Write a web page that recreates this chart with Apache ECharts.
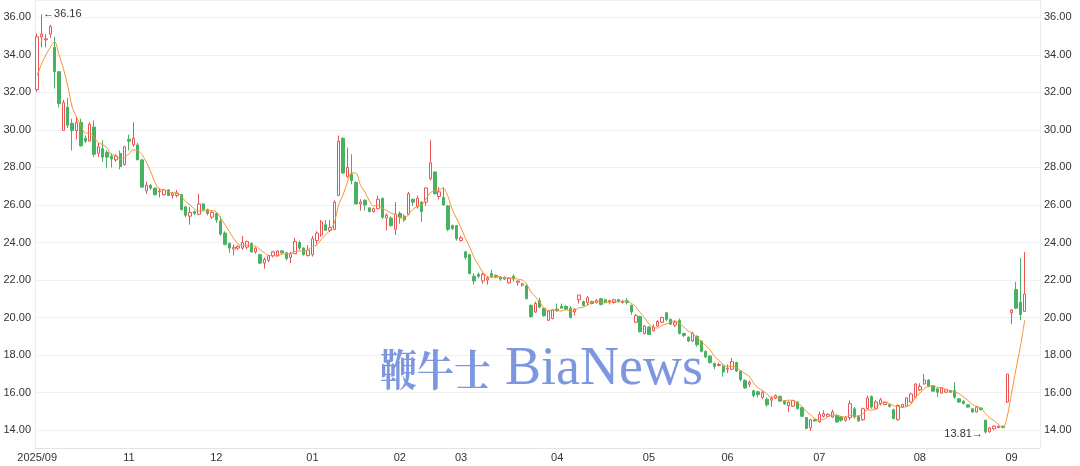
<!DOCTYPE html>
<html><head><meta charset="utf-8">
<script src="https://cdn.jsdelivr.net/npm/echarts@6/dist/echarts.min.js"></script>
<style>html,body{margin:0;padding:0;background:#fff}#c{width:1080px;height:466px}</style>
</head><body><div id="c"></div>
<script>
// month blocks of the category axis (trading days per month; last block has 3 empty slots)
const monthLabels = ['2025/09','10','11','12','01','02','03','04','05','06','07','08','09'];
const monthCounts = [4,17,20,22,20,14,22,21,18,21,23,21,7];
const shownLabels = ['2025/09','11','12','01','02','03','04','05','06','07','08','09'];

const opens = [
32.15,34.95,34.8,35.1,34.4,33.1,29.97,31.2,30.35,29.95,
30.4,29.55,29.4,30.15,28.75,29.0,28.8,28.6,28.4,28.75,
28.15,29.5,29.2,29.2,28.4,26.75,27.05,26.9,26.7,26.55,
26.8,26.5,26.5,26.55,25.9,25.4,25.65,25.5,26.05,25.75,
25.35,25.55,25.15,24.5,23.95,23.65,23.7,23.7,23.75,23.95,
23.5,23.35,22.9,23.05,23.3,23.3,23.55,23.45,23.2,23.4,
24.0,23.7,23.3,23.35,24.1,24.4,24.95,24.65,24.7,26.5,
29.55,27.5,27.65,27.2,26.05,26.25,25.85,25.65,25.8,26.35,
25.3,25.3,24.7,25.55,25.4,25.5,26.3,25.9,26.15,26.15,
27.4,27.75,26.45,26.4,25.95,24.9,24.9,24.1,23.5,23.35,
22.2,22.3,21.95,22.0,22.35,22.25,22.15,22.05,21.85,22.2,
21.88,21.72,21.7,20.65,20.3,20.9,20.5,19.85,19.95,20.45,
20.6,20.6,20.5,20.3,20.95,20.85,20.8,20.85,20.8,21.0,
20.95,20.85,20.8,20.95,20.8,20.9,20.65,19.75,20.05,19.15,
19.5,19.3,19.55,19.75,20.25,19.9,19.6,19.85,19.15,18.95,
18.75,19.0,18.75,18.2,17.95,17.55,17.45,17.4,17.25,17.25,
17.6,17.15,16.65,16.45,16.1,16.05,15.75,15.65,15.6,15.7,
15.8,15.55,15.3,15.28,15.5,15.2,14.67,14.14,14.56,14.44,
14.74,14.74,14.7,14.79,14.7,14.53,14.67,15.14,14.74,14.56,
15.14,15.79,15.14,15.41,15.37,15.35,15.09,14.56,15.23,15.27,
15.5,15.76,16.15,16.46,16.67,16.37,16.2,15.97,16.02,16.11,
16.11,15.67,15.55,15.35,15.14,14.97,15.18,14.53,13.91,14.07,
14.14,14.21,15.5,20.25,21.5,20.82,20.33];

const closes = [
34.96,35.1,34.85,35.5,33.1,31.4,31.45,30.25,29.97,30.4,
29.15,29.4,30.3,28.7,29.1,28.55,28.55,28.45,28.6,28.05,
29.1,29.4,29.55,28.4,26.95,27.05,26.9,26.55,26.75,26.8,
26.5,26.6,26.62,25.75,25.45,25.6,25.55,26.05,25.75,25.55,
25.6,25.2,24.45,23.9,23.7,23.75,23.8,24.0,24.05,23.5,
23.7,22.9,23.1,23.3,23.5,23.55,23.45,23.15,23.4,24.05,
23.7,23.35,23.6,24.2,24.5,25.1,24.65,24.8,26.15,29.4,
27.7,28.0,27.3,26.05,26.15,26.0,25.65,25.8,26.3,25.35,
25.45,24.9,25.5,25.35,25.2,26.6,26.15,26.35,25.65,26.9,
28.25,26.6,26.7,26.0,24.7,24.75,24.2,24.25,23.2,22.35,
21.95,22.2,22.3,22.1,22.2,22.15,22.05,22.12,22.1,22.05,
21.95,21.8,21.0,20.05,20.75,20.55,20.1,20.35,20.4,20.38,
20.5,20.45,20.0,20.45,21.2,20.65,21.05,20.75,20.9,20.7,
20.8,20.9,20.95,20.85,20.85,20.8,20.3,20.1,19.25,19.55,
19.1,19.5,19.8,20.0,19.9,19.65,19.75,19.15,19.05,18.75,
19.15,18.55,18.2,17.9,17.6,17.4,17.5,17.1,17.3,17.65,
17.15,16.7,16.25,16.55,15.85,15.9,16.0,15.35,15.7,15.85,
15.55,15.4,15.5,15.58,15.15,14.74,14.09,14.56,14.49,14.84,
14.88,14.84,14.97,14.44,14.53,14.67,15.41,14.7,14.49,15.14,
15.72,15.23,15.5,15.62,15.48,15.27,14.62,15.32,15.37,15.72,
15.93,16.46,16.32,16.67,16.32,16.08,16.02,16.25,16.15,16.02,
15.76,15.5,15.41,15.23,14.97,15.23,15.09,13.91,14.12,14.21,
14.21,14.14,16.99,20.4,20.5,20.16,21.25];

const lows = [
32.02,34.4,34.4,34.9,32.2,31.2,29.97,30.1,28.9,29.5,
29.1,29.3,29.4,28.55,28.55,28.3,27.95,28.0,28.3,27.9,
28.1,28.9,29.1,28.4,26.9,26.6,26.8,26.5,26.4,26.5,
26.5,26.35,26.4,25.7,25.35,24.95,25.45,25.45,25.7,25.45,
25.25,25.05,24.35,23.85,23.45,23.3,23.6,23.6,23.65,23.45,
23.4,22.85,22.6,22.95,23.2,23.25,23.4,23.05,22.9,23.4,
23.6,23.3,23.25,23.25,23.9,24.3,24.65,24.55,24.65,26.5,
27.65,27.45,27.1,26.05,25.7,25.7,25.6,25.6,25.8,25.25,
24.65,24.85,24.4,25.0,25.1,25.45,25.95,25.8,25.1,25.95,
27.3,26.55,26.3,25.95,24.6,24.65,24.1,24.05,23.1,22.3,
21.75,22.1,21.8,21.75,22.1,22.1,21.95,22.0,21.8,21.9,
21.7,21.65,21.0,20.0,20.25,20.5,20.05,19.85,19.9,20.3,
20.5,20.4,19.95,20.1,20.75,20.6,20.65,20.7,20.75,20.65,
20.75,20.7,20.75,20.8,20.75,20.7,20.15,19.7,19.2,19.1,
19.1,19.25,19.5,19.7,19.8,19.6,19.5,19.1,18.95,18.7,
18.7,18.45,18.15,17.85,17.55,17.25,17.4,16.85,17.05,17.2,
17.1,16.6,16.2,16.3,15.75,15.75,15.65,15.25,15.25,15.65,
15.5,15.35,14.97,15.23,15.1,14.7,14.05,13.96,14.45,14.4,
14.67,14.7,14.65,14.4,14.45,14.45,14.53,14.62,14.45,14.5,
15.06,15.14,15.1,15.32,15.33,15.2,14.58,14.5,15.2,15.25,
15.45,15.7,16.08,16.43,16.3,16.05,15.76,15.95,16.0,16.0,
15.67,15.45,15.38,15.2,14.93,14.95,15.05,13.81,13.88,14.02,
14.1,14.1,15.45,19.65,20.45,19.86,20.3];

const highs = [
35.14,36.16,35.1,35.6,34.96,33.1,31.6,31.7,30.6,30.7,
30.6,29.7,30.4,30.5,29.3,29.45,28.9,28.75,28.7,28.9,
29.15,29.75,30.4,29.3,28.45,27.25,27.1,26.9,26.9,26.85,
26.85,26.7,26.8,26.6,25.95,25.9,25.7,26.6,26.1,25.8,
25.7,25.6,25.4,24.6,24.0,23.9,23.85,24.35,24.1,24.0,
23.75,23.4,23.2,23.35,23.55,23.6,23.6,23.5,23.5,24.25,
24.1,23.75,23.85,24.35,24.6,25.2,25.2,25.2,26.25,29.7,
29.6,29.05,28.7,27.25,26.3,26.3,25.85,25.85,26.5,26.4,
25.55,25.4,26.15,25.65,25.5,26.7,26.35,26.5,26.2,26.95,
29.45,27.8,26.95,26.95,26.0,24.95,24.9,24.35,23.55,23.4,
22.35,22.4,22.4,22.2,22.55,22.3,22.2,22.2,22.15,22.3,
22.0,21.85,21.8,20.7,20.85,21.05,20.5,20.4,20.45,20.75,
20.75,20.65,20.6,20.5,21.2,20.9,21.15,20.9,21.0,21.05,
21.0,20.95,21.0,21.0,20.95,21.05,20.7,20.2,20.1,19.6,
19.55,19.65,19.85,20.05,20.3,19.95,19.85,19.95,19.2,19.0,
19.25,19.05,18.75,18.25,18.0,17.6,17.6,17.5,17.5,17.85,
17.65,17.2,16.7,16.65,16.15,16.1,16.1,15.75,15.8,15.9,
15.85,15.6,15.55,15.62,15.55,15.25,14.7,14.6,14.6,14.97,
15.06,14.9,15.09,14.85,14.75,14.75,15.58,15.23,14.78,15.2,
15.85,15.85,15.6,15.72,15.52,15.4,15.15,15.37,15.4,15.76,
16.0,16.5,16.5,16.99,16.72,16.4,16.25,16.3,16.2,16.15,
16.55,15.7,15.58,15.38,15.17,15.27,15.2,14.55,14.15,14.25,
14.24,14.24,17.0,20.45,21.9,23.18,23.5];

const ma5 = [
32.9,33.5,34.0,34.4,34.70,33.99,33.26,32.34,31.23,30.69,
30.24,29.83,29.84,29.59,29.33,29.21,29.04,28.67,28.65,28.44,
28.55,28.72,28.94,28.90,28.68,28.27,27.77,27.17,26.84,26.81,
26.70,26.64,26.65,26.45,26.18,26.00,25.79,25.68,25.68,25.70,
25.70,25.63,25.31,24.94,24.57,24.20,23.92,23.83,23.86,23.82,
23.81,23.63,23.45,23.30,23.30,23.27,23.38,23.39,23.41,23.52,
23.55,23.53,23.62,23.78,23.87,24.15,24.41,24.65,25.04,26.02,
26.54,27.21,27.71,27.69,27.04,26.70,26.23,25.93,25.98,25.82,
25.71,25.56,25.50,25.31,25.28,25.51,25.76,25.93,25.99,26.33,
26.66,26.75,26.82,26.89,26.45,25.75,25.27,24.78,24.22,23.75,
23.19,22.79,22.40,22.18,22.15,22.19,22.16,22.12,22.12,22.09,
22.05,22.00,21.78,21.37,21.11,20.83,20.49,20.36,20.43,20.36,
20.35,20.42,20.35,20.36,20.52,20.55,20.67,20.82,20.91,20.81,
20.84,20.81,20.85,20.84,20.87,20.87,20.75,20.58,20.26,20.00,
19.66,19.50,19.44,19.59,19.66,19.77,19.82,19.69,19.50,19.27,
19.17,18.93,18.74,18.51,18.28,17.93,17.72,17.50,17.38,17.39,
17.34,17.18,17.01,16.86,16.50,16.25,16.11,15.93,15.76,15.76,
15.69,15.57,15.60,15.58,15.44,15.27,15.01,14.82,14.61,14.54,
14.57,14.72,14.80,14.79,14.73,14.69,14.80,14.75,14.76,14.88,
15.09,15.06,15.22,15.44,15.51,15.42,15.30,15.26,15.21,15.26,
15.39,15.76,15.96,16.22,16.34,16.37,16.28,16.27,16.16,16.10,
16.04,15.94,15.77,15.58,15.37,15.27,15.19,14.89,14.66,14.51,
14.31,14.12,14.73,15.99,17.25,18.44,19.86];

const highMark = {index: 1, value: 36.16, text: '←36.16'};
const lowMark = {index: 217, value: 13.81, text: '13.81→'};

const categories = [];
monthLabels.forEach((m, mi) => { for (let k = 0; k < monthCounts[mi]; k++) categories.push(m + '#' + k); });
const candles = opens.map((o, i) => [o, closes[i], lows[i], highs[i]]);

const FONT = 'Liberation Sans, Arial, Helvetica, sans-serif';
const yFmt = v => { const r = Math.round(v); return (Math.abs(v - r) < 1e-6 && r % 2 === 0) ? v.toFixed(2) : ''; };
const yAxisBase = {
  type: 'value', min: 13.05, max: 36.92, splitNumber: 12, scale: true,
  axisLine: {show: true, lineStyle: {color: '#ececec'}},
  axisTick: {show: false},
  axisLabel: {formatter: yFmt, color: '#333', fontSize: 11, fontFamily: FONT, margin: 4}
};

const chart = echarts.init(document.getElementById('c'), null, {renderer: 'canvas'});
chart.setOption({
  animation: false,
  backgroundColor: '#fff',
  grid: {left: 35, right: 40, top: -4, bottom: 18},
  xAxis: {
    type: 'category', data: categories, boundaryGap: true,
    axisLine: {lineStyle: {color: '#e3e3e3'}},
    axisTick: {show: false},
    splitLine: {show: false},
    axisLabel: {
      interval: (i, v) => { const p = v.split('#'); return p[1] === '0' && shownLabels.indexOf(p[0]) >= 0; },
      formatter: v => v.split('#')[0],
      color: '#333', fontSize: 11, fontFamily: FONT, margin: 4
    }
  },
  yAxis: [
    Object.assign({}, yAxisBase, {position: 'left', splitLine: {show: true, lineStyle: {color: '#f0f0f0'}}}),
    Object.assign({}, yAxisBase, {position: 'right', splitLine: {show: false}})
  ],
  series: [
    {
      type: 'candlestick', data: candles, barWidth: '66%',
      itemStyle: {color: '#ffffff', color0: '#47b262', borderColor: '#eb5454', borderColor0: '#47b262', borderWidth: 1},
      markPoint: {
        symbol: 'circle', symbolSize: 1, itemStyle: {color: 'rgba(0,0,0,0)'},
        label: {show: true, color: '#333', fontSize: 11, fontFamily: FONT},
        data: [
          {coord: [categories[highMark.index], highMark.value], value: highMark.value, label: {position: 'right', distance: 1, formatter: highMark.text}},
          {coord: [categories[lowMark.index], lowMark.value], value: lowMark.value, label: {position: 'left', distance: 2, formatter: lowMark.text}}
        ]
      }
    },
    {
      type: 'line', data: ma5, smooth: 0.3, showSymbol: false, symbol: 'none',
      lineStyle: {color: '#f2952f', width: 1}, z: 3
    }
  ],
  graphic: [
    {type: 'text', x: 380, y: 370, z: 100, silent: true, scaleX: 0.86,
     style: {text: '鞭牛士', fontSize: 43, fontWeight: 'bold', fontFamily: 'Noto Serif CJK SC, Noto Sans CJK SC, serif', fill: 'rgba(110,140,220,0.9)', verticalAlign: 'middle'}},
    {type: 'text', x: 505, y: 370, z: 100, silent: true,
     style: {text: 'BiaNews', fontSize: 54, fontFamily: 'Liberation Serif, DejaVu Serif, serif', fill: 'rgba(110,140,220,0.9)', verticalAlign: 'middle'}}
  ]
});
</script>
</body></html>
